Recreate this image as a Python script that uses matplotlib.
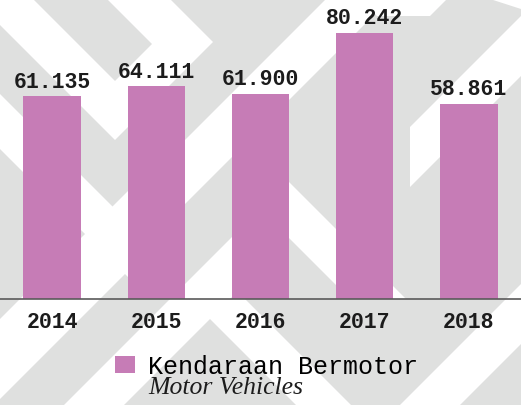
import matplotlib.pyplot as plt
from matplotlib.patches import Polygon

years = ['2014', '2015', '2016', '2017', '2018']
vehicles = [61.135, 64.111, 61.900, 80.242, 58.861]
value_labels = ['61.135', '64.111', '61.900', '80.242', '58.861']
series_name = 'Kendaraan Bermotor'
series_name_en = 'Motor Vehicles'

W, H = 521, 406
bar_color = '#c67cb6'
bg_gray = '#dfe0df'
text_color = '#1c1c1c'
mono = ['Liberation Mono', 'DejaVu Sans Mono']

# white diagonal bands of the background, in pixel coords (y down)
bands = [
    [(0, 0), (33, 0), (115, 82), (152, 45), (107, 0), (170, 0), (213, 43),
     (115, 141), (0, 26)],
    [(0, 95), (0, 150), (129, 279), (129, 224)],
    [(0, 320), (0, 400), (140, 260), (140, 180)],
    [(150, 176), (150, 240), (390, 0), (326, 0)],
    [(360, 0), (447, 0), (430, 17), (377, 17)],
    [(410, 128), (410, 188), (521, 77), (521, 17)],
    [(490, 0), (521, 0), (521, 10)],
    [(240, 134), (240, 190), (350, 300), (406, 300)],
    [(60, 410), (120, 410), (250, 280), (250, 220)],
    [(190, 300), (245, 300), (351, 406), (296, 406)],
    [(400, 406), (460, 406), (521, 345), (521, 285)],
]

fig = plt.figure(figsize=(W / 100, H / 100), dpi=100)
fig.patch.set_facecolor(bg_gray)
for pts in bands:
    fig.patches.append(Polygon([(x / W, 1 - y / H) for x, y in pts], closed=True,
                               transform=fig.transFigure, facecolor='white',
                               edgecolor='none', zorder=-5))

ax = fig.add_axes([0, (H - 300) / H, 1, 300 / H])
ax.set_zorder(2)
ax.set_facecolor('none')
x = range(len(years))
bars = ax.bar(x, vehicles, width=0.55, color=bar_color, zorder=2)

for xi, v, lab in zip(x, vehicles, value_labels):
    ax.annotate(lab, (xi, v), xytext=(0, 7), textcoords='offset points',
                ha='center', va='baseline', fontsize=15.5, family=mono,
                fontweight='bold', color=text_color)

ax.set_xlim(-0.5, 4.5)
ax.set_ylim(0, 90.5)
ax.set_xticks(list(x))
ax.set_xticklabels(years, fontsize=15.5, family=mono, fontweight='bold', color=text_color)
ax.tick_params(axis='x', length=0, pad=9)
ax.set_yticks([])
for s in ['top', 'left', 'right']:
    ax.spines[s].set_visible(False)
ax.spines['bottom'].set_color('#5a5a5a')
ax.spines['bottom'].set_linewidth(1.2)

leg = fig.legend([bars], [series_name], loc='upper left',
                 bbox_to_anchor=(115 / W, 1 - 355 / H), frameon=False,
                 prop={'family': mono, 'size': 18},
                 handlelength=0.8, handleheight=0.65, handletextpad=0.5,
                 borderpad=0, borderaxespad=0)
leg.set_zorder(3)
t = fig.text(148 / W, 1 - 394 / H, series_name_en, family='Liberation Serif',
             style='italic', fontsize=18.5, color=text_color, va='baseline')
t.set_zorder(3)

fig.savefig('out.png', dpi=100, facecolor=fig.get_facecolor())
